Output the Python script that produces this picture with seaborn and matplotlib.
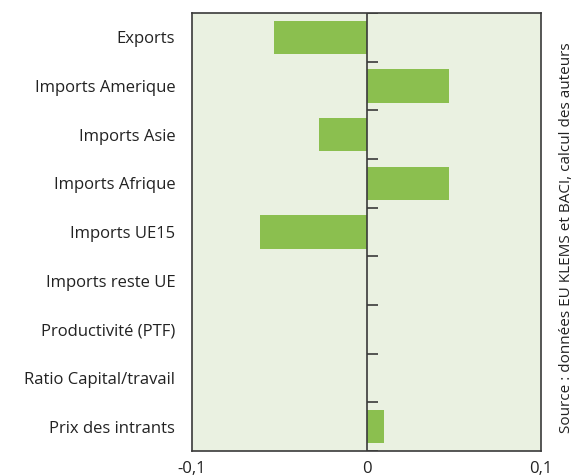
import matplotlib
matplotlib.use("Agg")
import matplotlib.pyplot as plt
import seaborn as sns
import pandas as pd
import numpy as np

categories = ["Exports", "Imports Amerique", "Imports Asie", "Imports Afrique",
              "Imports UE15", "Imports reste UE", "Productivité (PTF)",
              "Ratio Capital/travail", "Prix des intrants"]
values = [-0.053, 0.047, -0.027, 0.047, -0.061, 0.0, 0.0, 0.0, 0.0103]
xticks = [-0.1, 0.0, 0.1]
xtick_labels = ["-0,1", "0", "0,1"]
source = "Source : données EU KLEMS et BACI, calcul des auteurs"

sns.set_theme(style="white")
plt.rcParams['font.family'] = ['Open Sans', 'DejaVu Sans']

df = pd.DataFrame({"cat": categories, "val": values})

fig = plt.figure(figsize=(5.74, 4.76), dpi=100)
ax = fig.add_axes([192/574, 25/476, 349/574, 438/476])
ax.set_facecolor("#EAF1E1")

sns.barplot(data=df, x="val", y="cat", orient="h", color="#8BBF4F",
            saturation=1, width=0.68, linewidth=0, ax=ax, zorder=2)

ax.set_xlim(-0.1, 0.1)
ax.set_ylim(len(categories) - 0.5, -0.5)
ax.set_xticks(xticks)
ax.set_xticklabels(xtick_labels, fontsize=12, color="#222222")
ax.set_xlabel("")
ax.set_ylabel("")
ax.tick_params(axis="both", length=0)
ax.tick_params(axis="y", labelsize=12, labelcolor="#222222", pad=12)
ax.tick_params(axis="x", pad=7)

# zero line and category boundary ticks
ax.axvline(0, color="#3a3a3a", lw=1.2, zorder=3)
bounds = np.arange(len(categories) + 1) - 0.5
ax.hlines(bounds, 0, 0.0066, color="#3a3a3a", lw=1.2, zorder=3)

for s in ax.spines.values():
    s.set_color("#3a3a3a")
    s.set_linewidth(1.2)

fig.text(566/574, 238/476, source, rotation=90, ha="center", va="center",
         fontsize=11, color="#222222")

fig.savefig("out.png", dpi=100)
